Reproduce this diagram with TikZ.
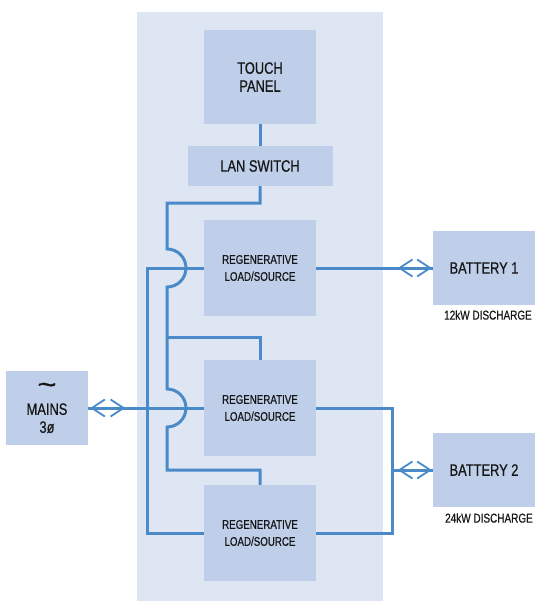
\documentclass[tikz,border=0pt]{standalone}
\usepackage{fontspec}
\setmainfont[FakeStretch=0.78, FakeBold=0.6]{Liberation Sans}
\usepackage{xcolor}
\usetikzlibrary{arrows.meta, decorations.markings, positioning}
\definecolor{panelbg}{HTML}{DFE6F3}
\definecolor{boxfill}{HTML}{BFCFEA}
\definecolor{wire}{HTML}{4A8AC9}
\definecolor{ink}{HTML}{161616}

\begin{document}
\begin{tikzpicture}[x=1pt, y=-1pt, >={Straight Barb[length=13pt, width=17pt, line width=1.8pt]}]
    % Define styles
    \tikzstyle{block}=[rectangle, fill=boxfill, text=ink, inner sep=0pt, align=center, font=\fontsize{16.5}{18}\selectfont]
    \tikzstyle{regen}=[block, minimum width=112pt, minimum height=96pt, font=\fontsize{12.5}{17}\selectfont]
    \tikzstyle{note}=[text=ink, inner sep=0pt, font=\fontsize{12.8}{14}\selectfont]
    \tikzstyle{link}=[draw=wire, line width=3pt]
    \tikzstyle{bidir end}=[postaction={decorate, decoration={markings,
        mark=at position -1pt with {\arrow{>}},
        mark=at position -35pt with {\arrowreversed{>}}}}]
    \tikzstyle{bidir start}=[postaction={decorate, decoration={markings,
        mark=at position 2pt with {\arrowreversed{>}},
        mark=at position 37pt with {\arrow{>}}}}]

    \useasboundingbox (0,0) rectangle (538,601);

    % Cabinet
    \fill[panelbg] (137,12) rectangle (383,601);

    % Draw the blocks
    \node[block, minimum width=112pt, minimum height=94pt] (touch) at (260,77) {TOUCH\\PANEL};
    \node[block, minimum width=145pt, minimum height=40pt] (lan) at (260,166) {LAN SWITCH};
    \foreach \name/\y in {reg1/268, reg2/408, reg3/533}
        \node[regen] (\name) at (260,\y) {REGENERATIVE\\LOAD/SOURCE};
    \node[block, minimum width=82pt, minimum height=74pt] (mains) at (47,408)
        {{\fontsize{28}{14}\selectfont\scalebox{1.5}[1]{\textasciitilde}}\\[3pt]MAINS\\3ø};
    \node[block, minimum width=102pt, minimum height=73pt] (bat1) at (484,268) {BATTERY 1};
    \node[block, minimum width=102pt, minimum height=74pt] (bat2) at (484,470) {BATTERY 2};
    \node[note] (bat1note) at (488,315) {12kW DISCHARGE};
    \node[note] (bat2note) at (489,518) {24kW DISCHARGE};

    % Bus points
    \coordinate (lantap) at (167,337);
    \coordinate (acbus) at (147,268);
    \coordinate (dcbus) at (392,470);

    % Control network
    \draw[link] (touch) -- (lan);
    \draw[link] (lan.south) -- ++(0,17) -| (167,249)
        arc[start angle=-90, end angle=90, radius=19] -- (167,389)
        arc[start angle=-90, end angle=90, radius=19] -- (167,470) -| (reg3.north);
    \draw[link] (lantap) -| (reg2.north);

    % Power connections
    \draw[link] (reg1.west) -- (acbus) |- (reg3.west);
    \draw[link, bidir start] (mains) -- (reg2);
    \draw[link, bidir end] (reg1) -- (bat1);
    \draw[link] (reg2.east) -| (392,533) -- (reg3.east);
    \draw[link, bidir end] (dcbus) -- (bat2);

\end{tikzpicture}
\end{document}
